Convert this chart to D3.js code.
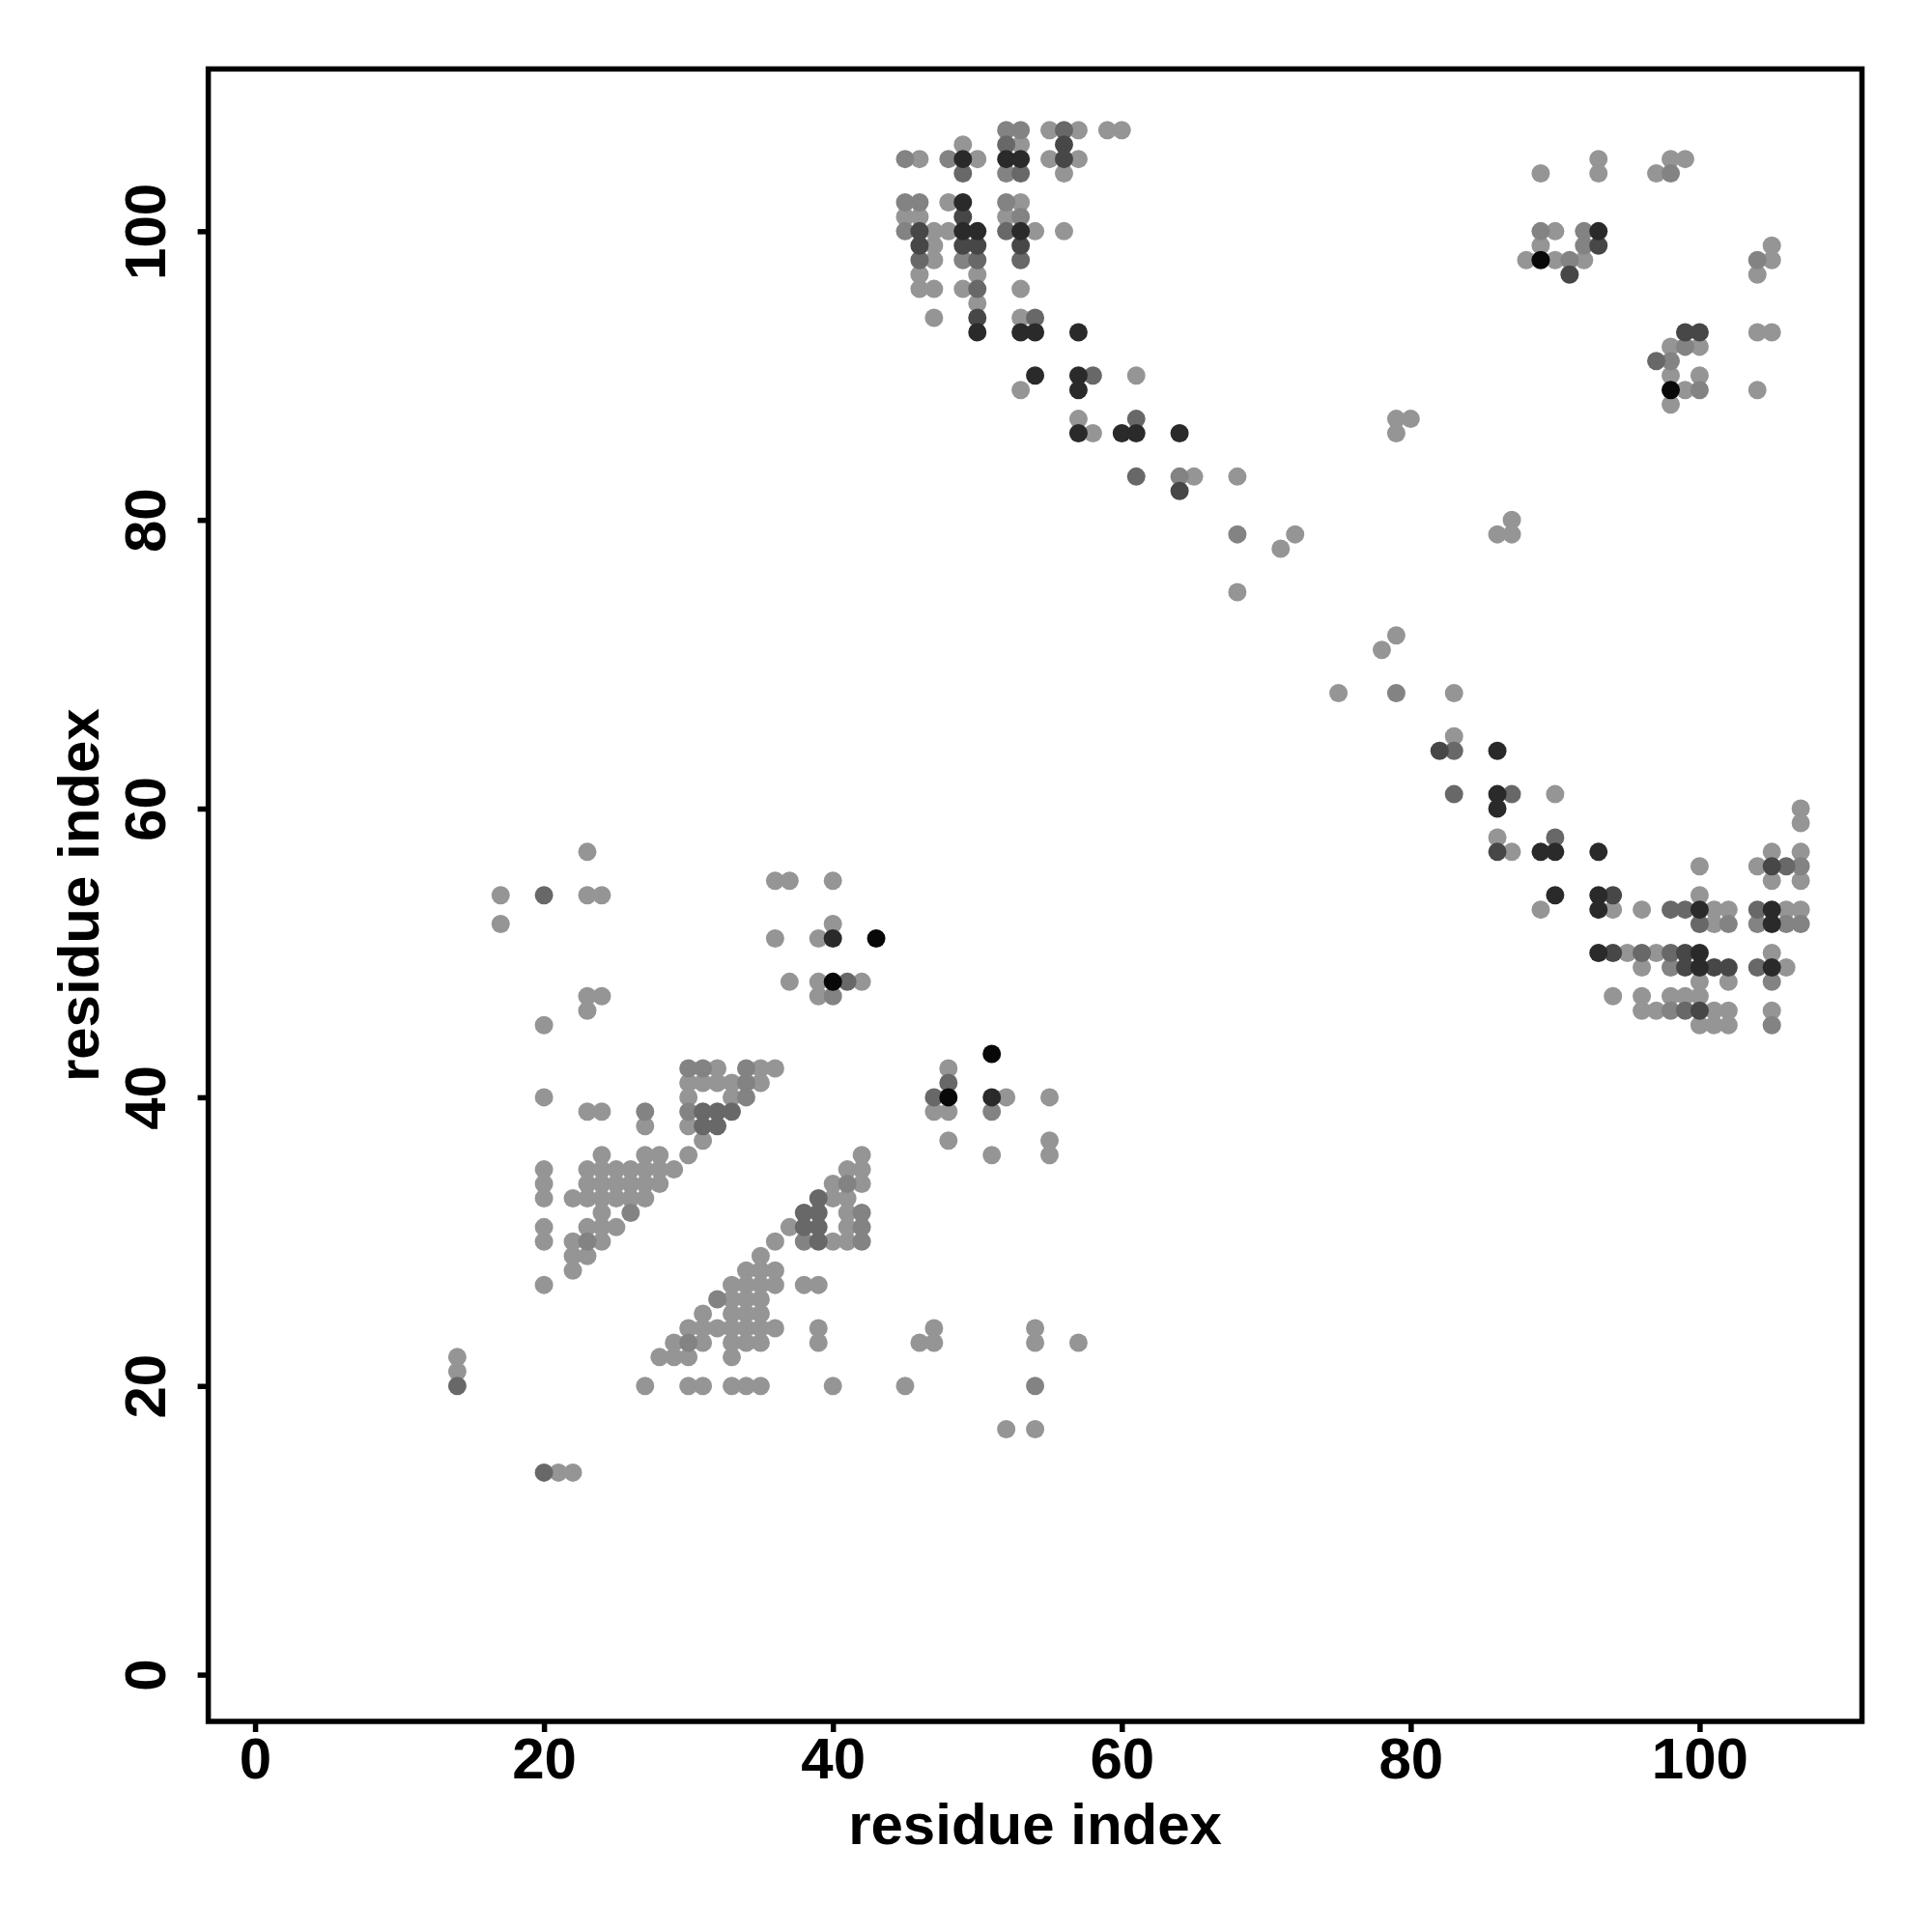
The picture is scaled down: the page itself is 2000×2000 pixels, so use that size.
<!DOCTYPE html>
<html><head><meta charset="utf-8">
<script src="https://cdn.jsdelivr.net/npm/d3@7"></script>
<style>body{margin:0;background:#fff}</style>
</head><body>
<svg id="chart" width="2000" height="2000"></svg>
<script>
// axis settings (data range 1..107 as in the original plot)
const residueRange = [1, 107];
const xTicks = [0, 20, 40, 60, 80, 100];
const yTicks = [0, 20, 40, 60, 80, 100];
const xLabel = "residue index";
const yLabel = "residue index";
// grey level per contact strength (0 = weakest, 5 = strongest)
const levelColors = ["#959595", "#838383", "#686868", "#474747", "#2a2a2a", "#080808"];

// contacts: [residue i, residue j, strength level]
const lowerLeft = [
 [14,22,0],[14,21,0],[14,20,2],[20,14,2],[21,14,0],[22,14,0],
 [17,54,0],[17,52,0],[20,54,2],[23,54,0],[24,54,0],[23,57,0],
 [23,47,0],[24,47,0],[23,46,0],[20,45,0],[20,40,0],[23,39,0],[24,39,0],[27,39,1],[27,38,0],
 [20,35,0],[20,34,0],[20,33,0],[20,31,0],[20,30,0],[20,27,0],
 [22,33,0],[22,30,0],[22,29,0],[22,28,0],
 [23,35,0],[23,34,0],[23,33,0],[23,31,0],[23,30,1],[23,29,0],
 [24,36,0],[24,35,0],[24,34,0],[24,33,0],[24,32,0],[24,31,0],[24,30,0],
 [25,35,0],[25,34,0],[25,33,0],[25,31,0],
 [26,35,0],[26,34,0],[26,33,0],[26,32,1],
 [27,36,0],[27,35,0],[27,34,0],[27,33,0],
 [28,36,0],[28,35,0],[28,34,0],[29,35,0],[30,36,0]
];
const lowerStrand = [
 [27,20,0],[28,22,0],[29,22,0],[30,22,0],[33,22,0],
 [29,23,0],[30,23,1],[31,23,0],[33,23,0],[34,23,0],[35,23,0],
 [30,24,0],[31,24,0],[32,24,0],[33,24,0],[34,24,0],[35,24,0],[36,24,0],
 [31,25,0],[33,25,0],[34,25,0],[35,25,0],
 [32,26,1],[33,26,0],[34,26,0],[35,26,0],
 [33,27,0],[34,27,0],[35,27,0],[36,27,0],
 [34,28,0],[35,28,0],[36,28,0],[35,29,0],[36,30,0],[37,31,0],
 [38,32,2],[39,32,2],[38,31,2],[39,31,2],[38,30,1],[39,30,2],[39,33,2],
 [40,33,0],[41,33,0],[40,34,0],[41,34,1],[42,34,0],[41,35,0],[42,35,0],[42,36,0],
 [40,30,0],[41,30,0],[42,30,1],[41,31,0],[42,31,1],[41,32,0],[42,32,1],
 [38,27,0],[39,27,0],[39,24,0],[39,23,0],
 [30,20,0],[31,20,0],[33,20,0],[34,20,0],[35,20,0],[40,20,0]
];
const upperBand = [
 [30,42,1],[31,42,1],[32,42,0],[34,42,1],[35,42,0],[36,42,0],
 [30,41,0],[31,41,0],[32,41,0],[33,41,0],[34,41,1],[35,41,0],
 [30,40,0],[33,40,0],[34,40,1],
 [30,39,1],[31,39,2],[32,39,2],[33,39,2],
 [30,38,0],[31,38,2],[32,38,2],[31,37,0],
 [36,55,0],[37,55,0],[40,55,0],[40,52,0],[36,51,0],[39,51,0],[40,51,4],[43,51,5],
 [37,48,0],[39,48,0],[40,48,5],[41,48,2],[42,48,0],[39,47,0],[40,47,1]
];
const middle = [
 [51,43,5],[48,42,0],[48,41,2],[47,40,2],[48,40,5],[47,39,0],[48,39,0],[51,40,4],[52,40,0],
 [51,39,1],[55,40,0],[48,37,0],[51,36,0],[55,37,0],[55,36,0],
 [47,24,0],[46,23,0],[47,23,0],[54,24,0],[54,23,0],[57,23,0],[45,20,0],[54,20,1],[52,17,0],[54,17,0]
];
const topCluster = [
 [52,107,1],[53,107,1],[55,107,0],[56,107,2],[57,107,0],[59,107,0],[60,107,0],
 [49,106,0],[52,106,2],[53,106,0],[56,106,3],
 [45,105,1],[46,105,0],[48,105,1],[49,105,4],[50,105,0],[52,105,4],[53,105,4],[55,105,0],[56,105,3],[57,105,0],
 [49,104,2],[52,104,1],[53,104,2],[56,104,0],
 [45,102,1],[46,102,1],[48,102,0],[49,102,4],[52,102,1],[53,102,0],
 [45,101,0],[46,101,0],[49,101,3],[52,101,0],[53,101,1],
 [45,100,1],[46,100,3],[47,100,0],[48,100,0],[49,100,4],[50,100,4],[52,100,2],[53,100,4],[54,100,0],[56,100,0],
 [46,99,3],[47,99,0],[49,99,3],[50,99,3],[53,99,3],
 [46,98,2],[47,98,0],[49,98,1],[50,98,2],[53,98,2],
 [46,97,0],[50,97,0],
 [46,96,0],[47,96,0],[49,96,0],[50,96,2],[53,96,0],
 [50,95,0],
 [47,94,0],[50,94,3],[53,94,0],[54,94,2],
 [50,93,4],[53,93,4],[54,93,4],[57,93,4]
];
const diagonal = [
 [54,90,4],[57,90,4],[58,90,2],[61,90,0],[53,89,0],[57,89,4],
 [57,87,0],[61,87,2],[57,86,4],[58,86,0],[60,86,4],[61,86,4],[64,86,4],
 [61,83,2],[64,83,1],[65,83,0],[68,83,0],[64,82,3],
 [68,79,1],[72,79,0],[71,78,0],[68,75,0],
 [79,87,0],[80,87,0],[79,86,0],[87,80,0],[86,79,0],[87,79,0],
 [79,72,0],[78,71,0],[75,68,0],[79,68,1],[83,68,0],
 [83,65,0],[82,64,3],[83,64,2],[86,64,4],
 [83,61,2],[86,61,4],[87,61,2],[86,60,4],[90,61,0],
 [86,58,0],[86,57,3],[87,57,0],[89,57,4],[90,57,4],[90,58,2],[93,57,4],
 [90,54,4],[89,53,0],[93,54,4],[94,54,3],[93,53,4],[94,53,0],[96,53,0]
];
const topRight = [
 [93,105,0],[93,104,0],[89,104,0],[98,105,0],[99,105,0],[97,104,0],[98,104,1],
 [89,100,1],[90,100,0],[92,100,1],[93,100,4],[89,99,0],[92,99,1],[93,99,3],
 [88,98,0],[89,98,5],[90,98,0],[91,98,1],[92,98,0],[91,97,3],
 [105,99,0],[104,98,1],[105,98,0],[104,97,0],
 [99,93,3],[100,93,3],[104,93,0],[105,93,0],
 [98,92,0],[99,92,1],[100,92,0],[97,91,2],[98,91,1],[98,90,0],[100,90,0],
 [98,89,5],[99,89,0],[100,89,1],[104,89,0],[98,88,0]
];
const bottomRight = [
 [107,60,0],[107,59,0],[105,57,0],[107,57,0],[100,56,0],[104,56,0],[105,56,3],[106,56,2],[107,56,1],
 [105,55,0],[107,55,0],[100,54,0],
 [98,53,2],[99,53,2],[100,53,4],[101,53,0],[102,53,0],[104,53,2],[105,53,4],[106,53,0],[107,53,0],
 [100,52,2],[101,52,0],[102,52,1],[104,52,1],[105,52,4],[106,52,1],[107,52,1],
 [93,50,4],[94,50,3],[95,50,0],[96,50,2],[97,50,0],[98,50,2],[99,50,3],[100,50,4],[105,50,0],
 [96,49,0],[98,49,1],[99,49,3],[100,49,4],[101,49,3],[102,49,3],[104,49,2],[105,49,4],[106,49,0],
 [100,48,0],[102,48,0],[105,48,1],
 [94,47,0],[96,47,0],[98,47,0],[99,47,0],[100,47,0],
 [96,46,0],[97,46,0],[98,46,1],[99,46,2],[100,46,3],[101,46,0],[102,46,0],[105,46,0],
 [100,45,0],[101,45,0],[102,45,0],[105,45,1]
];

const contacts = [].concat(lowerLeft, lowerStrand, upperBand, middle, topCluster, diagonal, topRight, bottomRight)
  .map(d => ({i: d[0], j: d[1], level: d[2]}))
  .sort((a, b) => a.level - b.level);

const svg = d3.select("#chart");
const plot = {left: 215.6, right: 1927.5, top: 71.4, bottom: 1782};
const ext = (residueRange[1] - residueRange[0]) * 0.04;
const x = d3.scaleLinear().domain([residueRange[0] - ext, residueRange[1] + ext]).range([plot.left, plot.right]);
const y = d3.scaleLinear().domain([residueRange[0] - ext, residueRange[1] + ext]).range([plot.bottom, plot.top]);
const color = d3.scaleOrdinal().domain(d3.range(levelColors.length)).range(levelColors);

const font = "'Liberation Sans', Arial, Helvetica, sans-serif";
const lineW = 5.5;

// points
svg.append("g").selectAll("circle").data(contacts).join("circle")
  .attr("cx", d => x(d.i))
  .attr("cy", d => y(d.j))
  .attr("r", 9.5)
  .attr("fill", d => color(d.level));

// box
svg.append("rect")
  .attr("x", plot.left).attr("y", plot.top)
  .attr("width", plot.right - plot.left).attr("height", plot.bottom - plot.top)
  .attr("fill", "none").attr("stroke", "#000").attr("stroke-width", lineW);

// x axis
const gx = svg.append("g").attr("transform", `translate(0,${plot.bottom})`)
  .call(d3.axisBottom(x).tickValues(xTicks).tickSize(11).tickFormat(d3.format("d")));
gx.select(".domain").remove();
gx.selectAll(".tick line").attr("stroke", "#000").attr("stroke-width", lineW);
gx.selectAll(".tick text").attr("y", 59).attr("dy", 0)
  .attr("font-family", font).attr("font-weight", "bold").attr("font-size", 60).attr("fill", "#000");

// y axis
const gy = svg.append("g").attr("transform", `translate(${plot.left},0)`)
  .call(d3.axisLeft(y).tickValues(yTicks).tickSize(11).tickFormat(d3.format("d")));
gy.select(".domain").remove();
gy.selectAll(".tick line").attr("stroke", "#000").attr("stroke-width", lineW);
gy.selectAll(".tick text")
  .attr("x", 0).attr("dy", 0).attr("y", -45)
  .attr("transform", "rotate(-90)")
  .attr("text-anchor", "middle")
  .attr("font-family", font).attr("font-weight", "bold").attr("font-size", 60).attr("fill", "#000");

// axis titles
svg.append("text")
  .attr("x", (plot.left + plot.right) / 2).attr("y", 1909)
  .attr("text-anchor", "middle")
  .attr("font-family", font).attr("font-weight", "bold").attr("font-size", 60)
  .text(xLabel);
svg.append("text")
  .attr("transform", `translate(102,${(plot.top + plot.bottom) / 2}) rotate(-90)`)
  .attr("text-anchor", "middle")
  .attr("font-family", font).attr("font-weight", "bold").attr("font-size", 60)
  .text(yLabel);
</script>
</body></html>
